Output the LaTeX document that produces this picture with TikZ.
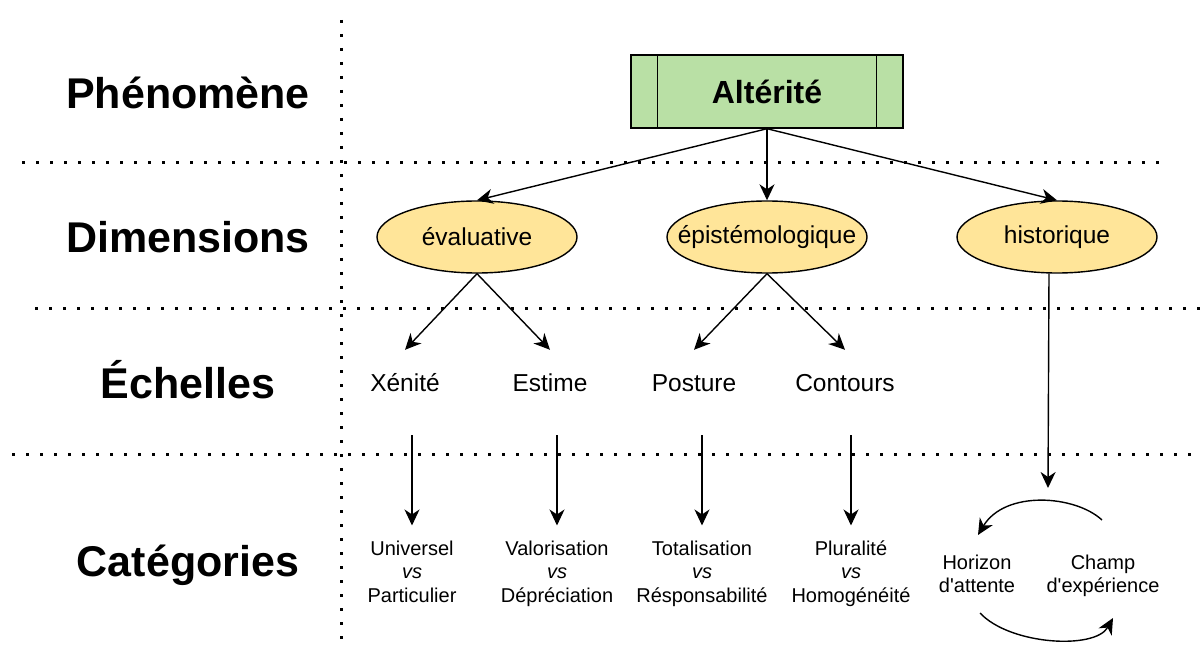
\documentclass[tikz,border=0pt]{standalone}
\usepackage{fontspec}
\newfontfamily\lsans{Liberation Sans}
\usetikzlibrary{shapes.geometric,arrows.meta,calc}
\definecolor{boxgreen}{HTML}{B9E0A5}
\definecolor{ellyellow}{HTML}{FFE599}
\begin{document}
\begin{tikzpicture}[x=1pt,y=-1pt,
  level/.style={font=\lsans\bfseries\fontsize{43}{50}\selectfont, inner sep=0, text height=30.8pt, text depth=0pt},
  dotline/.style={line width=3pt, dash pattern=on 3pt off 11pt},
  arr/.style={line width=1.4pt, -{Stealth[length=16pt,width=15pt,inset=5pt]}},
  dim/.style={ellipse, draw, line width=1.4pt, fill=ellyellow, minimum width=200pt, minimum height=72pt, inner xsep=-20pt, inner ysep=0pt, font=\lsans\fontsize{24.5}{29}\selectfont},
  ech/.style={font=\lsans\fontsize{24.5}{29}\selectfont, inner sep=0, text height=17.5pt, text depth=0pt, minimum height=66pt},
  cat/.style={font=\lsans\fontsize{20}{23.5}\selectfont, align=center, inner sep=0, anchor=north},
  phen/.style={draw, line width=1.4pt, fill=boxgreen, minimum width=272pt, minimum height=73pt, font=\lsans\bfseries\fontsize{32}{38}\selectfont},
]
\useasboundingbox (0,0) rectangle (1200,655);

% dotted grid
\draw[dotline] (341,20) -- (341,645);
\draw[dotline] (22,163) -- (1167,163);
\draw[dotline] (35,308) -- (1200,308);
\draw[dotline] (12,454) -- (1200,454);

% row labels
\node[level] (lphen) at (188,93) {Phénomène};
\node[level] (ldim) at (188,237) {Dimensions};
\node[level] (lech) at (188,383) {Échelles};
\node[level] (lcat) at (188,561) {Catégories};

% phenomenon
\node[phen] (alt) at (767,91.5) {Altérité};
\draw[line width=1.4pt] ([xshift=27pt]alt.north west) -- ([xshift=27pt]alt.south west);
\draw[line width=1.4pt] ([xshift=-27pt]alt.north east) -- ([xshift=-27pt]alt.south east);

% dimensions
\node[dim] (eva) at (477,237) {évaluative};
\node[dim] (epi) at (767,237) {épistémologique};
\node[dim] (his) at (1057,237) {historique};

\draw[arr] (alt.south) -- (eva.north);
\draw[arr] (alt.south) -- (epi.north);
\draw[arr] (alt.south) -- (his.north);

% scales
\node[ech] (xen) at (405,383) {Xénité};
\node[ech] (est) at (550,383) {Estime};
\node[ech] (pos) at (694,383) {Posture};
\node[ech] (con) at (845,383) {Contours};

\draw[arr] (eva.south) -- (xen.north);
\draw[arr] (eva.south) -- (est.north);
\draw[arr] (epi.south) -- (pos.north);
\draw[arr] (epi.south) -- (con.north);

% categories
\node[cat] (uni) at (412,540.5) {Universel\\\textit{vs}\\Particulier};
\node[cat] (val) at (557,540.5) {Valorisation\\\textit{vs}\\Dépréciation};
\node[cat] (tot) at (702,540.5) {Totalisation\\\textit{vs}\\Résponsabilité};
\node[cat] (plu) at (851,540.5) {Pluralité\\\textit{vs}\\Homogénéité};

\draw[arr, shorten <=19pt, shorten >=15pt] (xen.south -| uni.north) -- (uni.north);
\draw[arr, shorten <=19pt, shorten >=15pt] (est.south -| val.north) -- (val.north);
\draw[arr, shorten <=19pt, shorten >=15pt] (pos.south -| tot.north) -- (tot.north);
\draw[arr, shorten <=19pt, shorten >=15pt] (con.south -| plu.north) -- (plu.north);

% historical cycle
\node[cat] (hor) at (977,554.5) {Horizon\\d'attente};
\node[cat] (cha) at (1103,554.5) {Champ\\d'expérience};

\coordinate (cyc) at (1048,488);
\draw[arr] ([xshift=-8pt]his.south) -- (cyc);

\coordinate (t1) at (1102,520);
\coordinate (t2) at (978,535);
\draw[arr] (t1) .. controls (1075,495) and (1005,490) .. (t2);

\coordinate (b1) at (980,613);
\coordinate (b2) at (1113,618);
\draw[arr] (b1) .. controls (1010,645) and (1095,650) .. (b2);
\end{tikzpicture}
\end{document}
